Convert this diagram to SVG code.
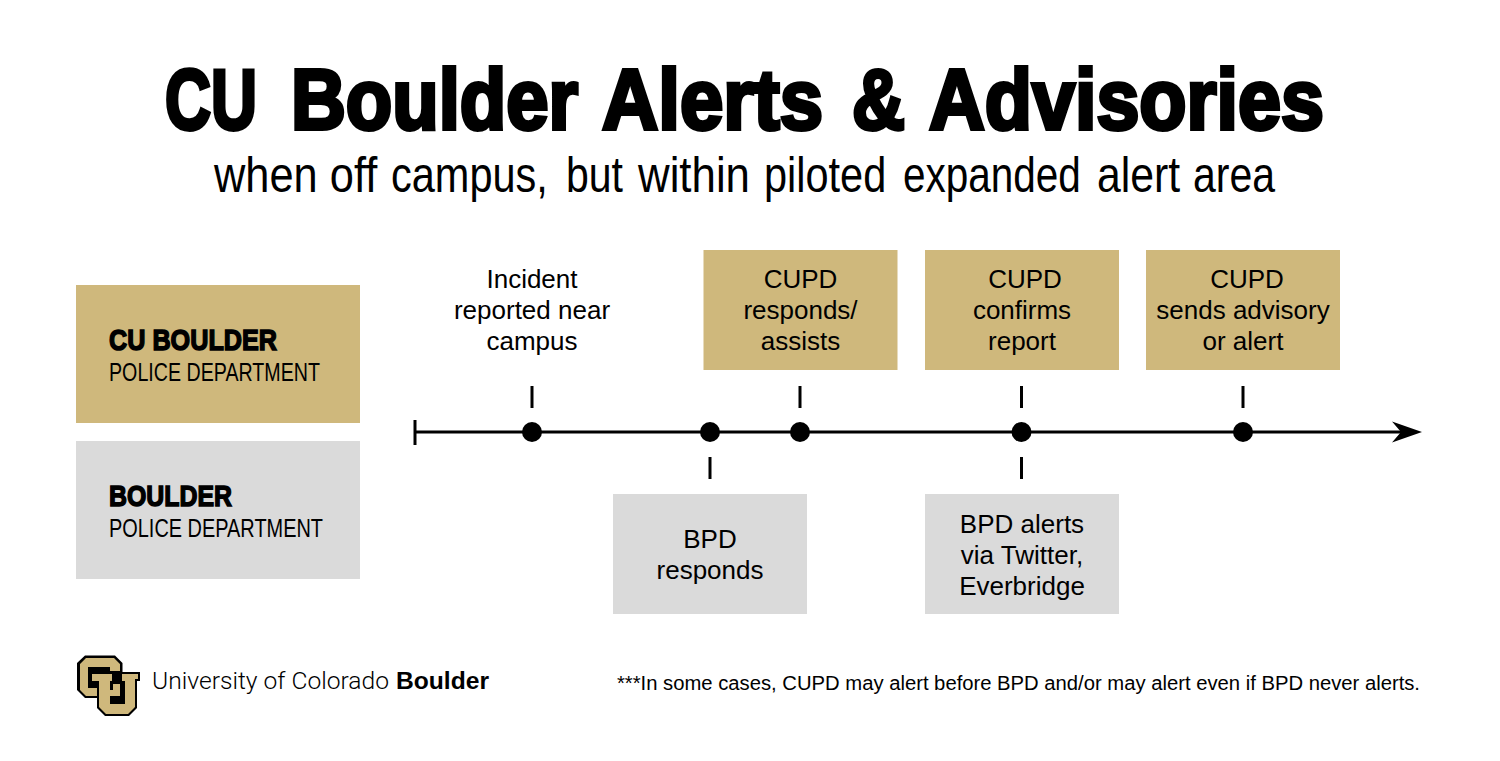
<svg xmlns="http://www.w3.org/2000/svg" width="1500" height="761" viewBox="0 0 1500 761">
<style>
text{font-family:"Liberation Sans",Arial,sans-serif;fill:#000}
.t{font-size:26px;text-anchor:middle}
.h{font-weight:700;font-size:30px;stroke:#000;stroke-width:1.5px}
.s{font-size:25px}
.b{font-size:86px;font-weight:700;stroke:#000;stroke-width:4px}
.u{font-size:50px}
.gold{fill:#cfb87c}
.grey{fill:#dadada}
.c line{stroke:#000;stroke-width:3}
.c circle{fill:#000}
</style>
<defs><marker id="a" markerUnits="userSpaceOnUse" markerWidth="32" markerHeight="24" refX="17" refY="12" orient="auto"><path d="M1 1.500 L31 12 L1 22.500 L10 12 Z" fill="#000"/></marker></defs>
<rect width="1500" height="761" fill="#fff"/>
<g id="title">
<text class="b" x="165" y="129" textLength="92" lengthAdjust="spacingAndGlyphs">CU</text>
<text class="b" x="291" y="129" textLength="287" lengthAdjust="spacingAndGlyphs">Boulder</text>
<text class="b" x="602" y="129" textLength="221" lengthAdjust="spacingAndGlyphs">Alerts</text>
<text class="b" x="852" y="129" textLength="53" lengthAdjust="spacingAndGlyphs">&amp;</text>
<text class="b" x="929" y="129" textLength="395" lengthAdjust="spacingAndGlyphs">Advisories</text>
</g>
<g id="subtitle">
<text class="u" transform="translate(214 192) scale(.868 1)">when off</text>
<text class="u" transform="translate(391 192) scale(.83 1)">campus,</text>
<text class="u" transform="translate(566 192) scale(.82 1)">but</text>
<text class="u" transform="translate(638 192) scale(.876 1)">within</text>
<text class="u" transform="translate(764 192) scale(.83 1)">piloted</text>
<text class="u" transform="translate(903 192) scale(.81 1)">expanded</text>
<text class="u" transform="translate(1097 192) scale(.855 1)">alert</text>
<text class="u" transform="translate(1193 192) scale(.82 1)">area</text>
</g>
<g id="legend-cu"><rect class="gold" x="76" y="285" width="284" height="138"/><text class="h" x="109" y="350" textLength="168" lengthAdjust="spacingAndGlyphs">CU BOULDER</text><text class="s" x="109" y="381" textLength="211" lengthAdjust="spacingAndGlyphs">POLICE DEPARTMENT</text></g>
<g id="legend-bpd"><rect class="grey" x="76" y="441" width="284" height="138"/><text class="h" x="109" y="506" textLength="123" lengthAdjust="spacingAndGlyphs">BOULDER</text><text class="s" x="109" y="537" textLength="214" lengthAdjust="spacingAndGlyphs">POLICE DEPARTMENT</text></g>
<g id="connectors" class="c">
<line x1="415" y1="432" x2="1408" y2="432" marker-end="url(#a)"/>
<line x1="415" y1="420" x2="415" y2="445"/>
<line x1="532" y1="386" x2="532" y2="408"/><line x1="800" y1="386" x2="800" y2="408"/><line x1="1021.500" y1="386" x2="1021.500" y2="408"/><line x1="1243" y1="386" x2="1243" y2="408"/>
<line x1="710" y1="457" x2="710" y2="479"/><line x1="1021.500" y1="457" x2="1021.500" y2="479"/>
<circle cx="532" cy="432" r="10"/><circle cx="710" cy="432" r="10"/><circle cx="800" cy="432" r="10"/><circle cx="1021.500" cy="432" r="10"/><circle cx="1243" cy="432" r="10"/>
</g>
<g id="n1"><text class="t" x="532" y="288">Incident</text><text class="t" x="532" y="319">reported near</text><text class="t" x="532" y="350">campus</text></g>
<g id="n2"><rect class="gold" x="703.500" y="250" width="194" height="120"/><text class="t" x="800.500" y="288">CUPD</text><text class="t" x="800.500" y="319">responds/</text><text class="t" x="800.500" y="350">assists</text></g>
<g id="n3"><rect class="gold" x="925" y="250" width="194" height="120"/><text class="t" x="1025" y="288">CUPD</text><text class="t" x="1022" y="319">confirms</text><text class="t" x="1022" y="350">report</text></g>
<g id="n4"><rect class="gold" x="1146" y="250" width="194" height="120"/><text class="t" x="1247" y="288">CUPD</text><text class="t" x="1243" y="319">sends advisory</text><text class="t" x="1243" y="350">or alert</text></g>
<g id="n5"><rect class="grey" x="613" y="494" width="194" height="120"/><text class="t" x="710" y="548">BPD</text><text class="t" x="710" y="579">responds</text></g>
<g id="n6"><rect class="grey" x="925" y="494" width="194" height="120"/><text class="t" x="1022" y="533">BPD alerts</text><text class="t" x="1022" y="564">via Twitter,</text><text class="t" x="1022" y="595">Everbridge</text></g>
<g id="logo">
<path fill="#000" d="M85 655.500H115L122.500 663V672H140V681H137V708L129 716H105L97 708V698H85L77 690V663Z"/>
<path class="gold" d="M80 664L86 658H114L120 664V671H110V667H88V688H97V696H86L80 690Z"/>
<path class="gold" d="M113 684H120V696H110V690H113Z"/>
<path class="gold" d="M92 674H112V681H110V704H125V681H122V674H138V679H135V707L128 714H106L99 707V681H92Z"/>
</g>
<text id="wordmark" x="152" y="689" font-size="24" font-weight="300" style="font-family:Roboto,'Liberation Sans',sans-serif" textLength="237" lengthAdjust="spacingAndGlyphs">University of Colorado</text>
<text x="396" y="689" font-size="24" font-weight="700" textLength="93" lengthAdjust="spacingAndGlyphs">Boulder</text>
<text id="note" x="617" y="690" font-size="19.500" textLength="803" lengthAdjust="spacingAndGlyphs">***In some cases, CUPD may alert before BPD and/or may alert even if BPD never alerts.</text>
</svg>
